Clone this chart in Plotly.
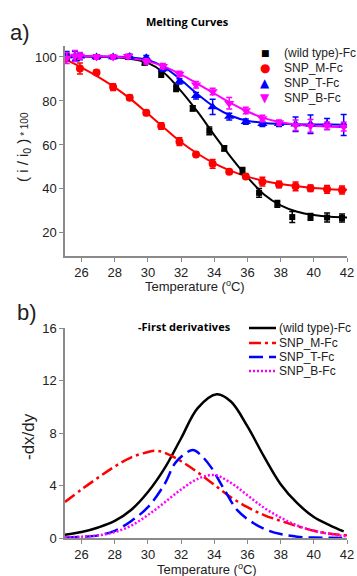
import plotly.graph_objects as go

# ---------------- data ----------------
series_names = ["(wild type)-Fc", "SNP_M-Fc", "SNP_T-Fc", "SNP_B-Fc"]
series_colors = ["#000000", "#ff0000", "#0000ff", "#ff00ff"]

# panel a) measured points
wt_temp = [25.1, 25.7, 26.9, 27.9, 28.8, 29.8, 30.8, 31.7, 32.7, 33.7, 34.6, 35.7, 36.7, 37.8, 38.7, 39.8, 40.8, 41.7]
wt_val = [100.0, 99.5, 100.0, 100.0, 100.0, 97.4, 92.3, 85.8, 76.6, 66.4, 58.4, 48.2, 38.2, 33.2, 27.2, 27.3, 27.0, 26.8]
wt_err = [1.5, 1.2, 1.0, 1.0, 1.0, 1.0, 1.5, 1.5, 1.2, 1.8, 1.2, 1.5, 2.0, 1.5, 2.5, 1.5, 2.0, 1.8]

m_temp = [25.0, 25.9, 26.9, 27.9, 28.9, 29.9, 30.8, 31.9, 32.9, 33.9, 34.9, 35.9, 36.9, 37.9, 38.9, 39.8, 40.8, 41.7]
m_val = [99.2, 94.8, 93.0, 86.3, 81.5, 74.6, 68.6, 61.5, 55.7, 51.4, 47.8, 45.7, 43.3, 42.0, 41.2, 40.3, 39.8, 39.5]
m_err = [1.2, 2.5, 1.0, 1.5, 1.2, 1.2, 1.5, 1.8, 1.0, 2.0, 1.0, 1.0, 2.0, 1.5, 2.0, 1.5, 1.8, 1.8]

t_temp = [25.1, 25.6, 25.9, 26.9, 27.9, 28.9, 29.9, 30.9, 31.9, 32.9, 33.9, 34.9, 35.9, 36.9, 37.9, 38.9, 39.8, 40.8, 41.8]
t_val = [100.5, 100.5, 100.3, 100.0, 100.0, 100.2, 99.7, 94.5, 88.9, 82.4, 77.3, 72.9, 70.6, 69.6, 69.6, 69.4, 69.4, 69.5, 69.1]
t_err = [2.0, 2.0, 1.5, 1.0, 1.0, 1.0, 1.0, 1.0, 1.2, 1.5, 3.5, 1.5, 1.2, 1.2, 1.2, 3.3, 4.2, 2.5, 4.8]

b_temp = [25.1, 25.6, 25.9, 26.9, 27.9, 28.8, 29.9, 30.9, 31.9, 32.9, 33.9, 34.9, 35.9, 36.9, 37.9, 38.9, 39.8, 40.8, 41.8]
b_val = [99.5, 100.5, 100.5, 100.0, 100.0, 100.3, 98.0, 95.8, 92.3, 87.4, 84.3, 79.0, 75.7, 72.0, 70.2, 69.0, 68.7, 68.7, 68.3]
b_err = [2.5, 2.5, 1.5, 1.0, 1.0, 1.0, 1.2, 1.2, 1.2, 1.5, 1.5, 2.6, 1.5, 1.5, 1.2, 2.4, 2.9, 1.7, 2.0]

# panel a) fitted curves (read from the picture)
fit_temp = [25, 26, 27, 28, 29, 30, 31, 32, 33, 34, 35, 36, 37, 38, 39, 40, 41, 42]
wt_fit = [100.3, 100.2, 100.1, 99.8, 99.1, 97.3, 92.6, 84.5, 75.0, 64.5, 54.5, 45.3, 37.5, 32.5, 29.6, 28.1, 27.3, 27.0]
m_fit = [99.0, 95.2, 91.0, 86.2, 80.6, 74.2, 67.6, 61.2, 56.0, 51.6, 48.2, 45.6, 43.6, 42.2, 41.2, 40.4, 39.9, 39.6]
t_fit = [100.3, 100.3, 100.2, 100.1, 99.8, 98.7, 95.3, 89.5, 83.0, 77.3, 73.3, 71.0, 70.0, 69.6, 69.4, 69.3, 69.3, 69.2]
b_fit = [100.5, 100.4, 100.3, 100.0, 99.4, 98.0, 95.6, 92.0, 87.8, 83.4, 79.0, 75.2, 72.2, 70.3, 69.2, 68.6, 68.3, 68.2]

# panel b) first derivatives
wt_d_temp = [25, 26, 27, 28, 29, 30, 31, 32, 33, 34.15, 35, 36, 37, 38, 39, 40, 41, 41.8]
wt_d_val = [0.25, 0.45, 0.8, 1.3, 2.15, 3.5, 5.3, 7.6, 9.9, 10.95, 10.4, 8.5, 6.2, 4.1, 2.65, 1.6, 0.95, 0.5]
m_d_temp = [25, 26, 27, 28, 29, 30, 30.5, 31, 32, 33, 34, 35, 36, 37, 38, 39, 40, 41, 42]
m_d_val = [2.75, 3.7, 4.6, 5.45, 6.15, 6.55, 6.65, 6.5, 5.85, 5.0, 4.05, 3.1, 2.35, 1.75, 1.3, 0.9, 0.55, 0.33, 0.2]
t_d_temp = [25, 26, 27, 28, 29, 30, 31, 31.7, 32.7, 33.2, 33.8, 34.6, 35.4, 36.4, 37.2, 38, 39, 40, 41, 42]
t_d_val = [0.02, 0.08, 0.2, 0.55, 1.3, 2.35, 4.1, 5.8, 6.7, 6.3, 5.4, 3.7, 2.1, 1.1, 0.6, 0.3, 0.1, 0.03, 0.01, 0.0]
b_d_temp = [25, 26, 27, 28, 29, 30, 31, 32, 33, 34, 35, 36, 37, 38, 39, 40, 41, 42]
b_d_val = [0.05, 0.1, 0.2, 0.45, 0.95, 1.75, 2.7, 3.7, 4.5, 4.8, 4.2, 3.25, 2.3, 1.55, 0.95, 0.55, 0.3, 0.12]

x_ticks = [26, 28, 30, 32, 34, 36, 38, 40, 42]
ya_ticks = [20, 40, 60, 80, 100]
yb_ticks = [0, 4, 8, 12, 16]

# ---------------- figure ----------------
W, H = 357, 576
L, R = 65, 10
PW = W - L - R

def px(x):
    return (x - L) / PW

def py(y):
    return (H - y) / H

FONT = "Liberation Sans, Arial, sans-serif"
AXC = "#8a8a8a"

fig = go.Figure()

points = [(wt_temp, wt_val, wt_err), (m_temp, m_val, m_err), (t_temp, t_val, t_err), (b_temp, b_val, b_err)]
fits = [wt_fit, m_fit, t_fit, b_fit]
symbols = ["square", "circle", "triangle-up", "triangle-down"]
msizes = [6, 8, 9, 9]

for i in range(4):
    fig.add_trace(go.Scatter(x=fit_temp, y=fits[i], mode="lines", line=dict(color=series_colors[i], width=2, shape="spline"),
                             xaxis="x", yaxis="y", showlegend=False, hoverinfo="skip"))
for i in range(4):
    tx, vy, er = points[i]
    fig.add_trace(go.Scatter(x=tx, y=vy, mode="markers",
                             marker=dict(symbol=symbols[i], size=msizes[i], color=series_colors[i]),
                             error_y=dict(type="data", array=er, visible=True, color=series_colors[i], thickness=1.5, width=3),
                             xaxis="x", yaxis="y", name=series_names[i], showlegend=False))

derivs = [(wt_d_temp, wt_d_val), (m_d_temp, m_d_val), (t_d_temp, t_d_val), (b_d_temp, b_d_val)]
dashes = ["solid", "12px,4px,3px,4px", "14px,6px", "2px,2px"]
dwidth = [2.5, 2.5, 2.5, 2.5]
for i in range(4):
    dx, dv = derivs[i]
    fig.add_trace(go.Scatter(x=dx, y=dv, mode="lines",
                             line=dict(color=series_colors[i], width=dwidth[i], dash=dashes[i], shape="spline"),
                             xaxis="x2", yaxis="y2", name=series_names[i], showlegend=False))

axis_common = dict(showgrid=False, zeroline=False, showline=True, linecolor=AXC, linewidth=1.5,
                   ticks="outside", ticklen=4, tickwidth=1.2, tickcolor=AXC, automargin=False,
                   tickfont=dict(family=FONT, size=13, color="#222222"), mirror=False)

fig.update_layout(
    width=W, height=H,
    margin=dict(l=L, r=R, t=0, b=0, autoexpand=False),
    paper_bgcolor="white", plot_bgcolor="white",
    showlegend=False,
    xaxis=dict(domain=[0, 1], range=[25, 42], tickvals=x_ticks, anchor="y", **axis_common),
    yaxis=dict(domain=[py(256), py(46)], range=[9.5, 105], tickvals=ya_ticks, anchor="x", **axis_common),
    xaxis2=dict(domain=[0, 1], range=[25, 42], tickvals=x_ticks, anchor="y2", **axis_common),
    yaxis2=dict(domain=[py(538), py(328)], range=[0, 16], tickvals=yb_ticks, anchor="x2", **axis_common),
)

ann = []
def text(x, y, t, size, color="#222222", bold=False, family=FONT, xanchor="center", angle=0):
    ann.append(dict(x=px(x), y=py(y), xref="paper", yref="paper", text=("<b>%s</b>" % t) if bold else t,
                    showarrow=False, xanchor=xanchor, yanchor="middle", textangle=angle,
                    font=dict(family=family, size=size, color=color)))

text(20, 33, "a)", 22)
text(27, 312, "b)", 22)
text(187, 22, "Melting Curves", 11, color="#000000", bold=True, family="Open Sans, sans-serif")
text(184, 326, "-First derivatives", 11, color="#000000", bold=True, family="Open Sans, sans-serif")
text(195, 286, "Temperature (<sup>o</sup>C)", 13)
text(207, 569, "Temperature (<sup>o</sup>C)", 13)
text(23, 147, "( i / i<sub>0</sub> )<span style='font-size:10px'> * 100</span>", 15, angle=-90)
text(28, 437, "-dx/dy", 17, angle=-90)

# legend a)
glyphs = ["■", "●", "▲", "▼"]
gsizes = [9, 12, 12, 12]
rows_a = [53, 68, 83, 98]
for i in range(4):
    text(265, rows_a[i], glyphs[i], gsizes[i], color=series_colors[i], family="DejaVu Sans")
    text(282, rows_a[i], series_names[i], 12, xanchor="left")

# legend b)
rows_b = [328, 343, 357, 371]
shapes = []
for i in range(4):
    shapes.append(dict(type="line", xref="paper", yref="paper", x0=px(249), x1=px(276), y0=py(rows_b[i]), y1=py(rows_b[i]),
                       line=dict(color=series_colors[i], width=2.5, dash=dashes[i])))
    text(277, rows_b[i], series_names[i], 12, xanchor="left")

fig.update_layout(annotations=ann, shapes=shapes)
fig.write_html("out.html", config={"displayModeBar": False}, post_script="document.body.style.margin='0';")
